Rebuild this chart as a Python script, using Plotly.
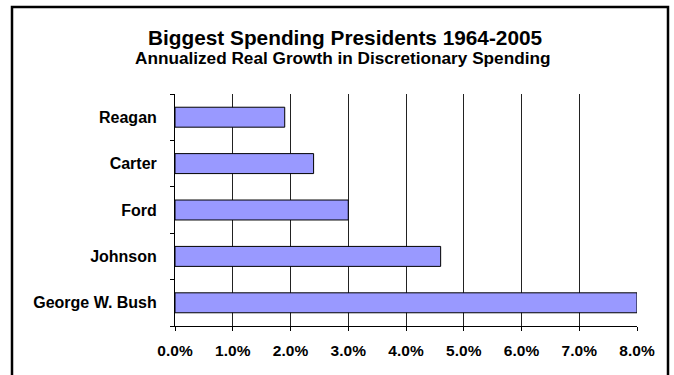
import plotly.graph_objects as go

# Annualized real growth in discretionary spending, by president
presidents = ["George W. Bush", "Johnson", "Ford", "Carter", "Reagan"]
growth = [0.080, 0.046, 0.030, 0.024, 0.019]

title_text = "Biggest Spending Presidents 1964-2005"
subtitle_text = "Annualized Real Growth in Discretionary Spending"

W, H = 674, 375
ML, MR, MT, MB = 175, 37, 94, 49
plot_w = W - ML - MR
plot_h = H - MT - MB


def px_x(px):
    return (px - ML) / plot_w


def px_y(py):
    return (H - MB - py) / plot_h


font = "Liberation Sans, Arial, sans-serif"

fig = go.Figure(
    go.Bar(
        x=growth,
        y=presidents,
        orientation="h",
        width=0.43,
        marker=dict(color="#9999FF", line=dict(color="#000000", width=1)),
        hoverinfo="skip",
    )
)

fig.update_layout(
    width=W,
    height=H,
    margin=dict(l=ML, r=MR, t=MT, b=MB, pad=0),
    paper_bgcolor="white",
    plot_bgcolor="white",
    showlegend=False,
    font=dict(family=font, color="#000000"),
    xaxis=dict(
        range=[0, 0.08],
        dtick=0.01,
        tick0=0,
        tickformat=".1%",
        showgrid=True,
        gridcolor="#222222",
        gridwidth=1,
        zeroline=False,
        showline=True,
        linecolor="#000000",
        linewidth=1,
        ticks="outside",
        ticklen=4,
        tickcolor="#000000",
        ticklabelstandoff=6,
        tickfont=dict(family=font, size=15.5, color="#000000", weight="bold"),
        fixedrange=True,
    ),
    yaxis=dict(
        type="category",
        categoryorder="array",
        categoryarray=presidents,
        range=[-0.5, 4.5],
        tickson="boundaries",
        ticks="outside",
        ticklen=4,
        tickcolor="#000000",
        showgrid=False,
        zeroline=False,
        showline=True,
        linecolor="#000000",
        linewidth=1,
        ticklabelstandoff=14,
        tickfont=dict(family=font, size=16, color="#000000", weight="bold"),
        fixedrange=True,
    ),
    shapes=[
        dict(
            type="rect",
            xref="paper",
            yref="paper",
            x0=px_x(12),
            x1=px_x(668),
            y0=px_y(395),
            y1=px_y(7),
            line=dict(color="#000000", width=2.5),
            fillcolor="rgba(0,0,0,0)",
            layer="below",
        )
    ],
    annotations=[
        dict(
            text=f"<b>{title_text}</b>",
            xref="paper",
            yref="paper",
            x=px_x(345),
            y=px_y(37),
            xanchor="center",
            yanchor="middle",
            showarrow=False,
            font=dict(family=font, size=20.8, color="#000000"),
        ),
        dict(
            text=f"<b>{subtitle_text}</b>",
            xref="paper",
            yref="paper",
            x=px_x(342),
            y=px_y(58),
            xanchor="center",
            yanchor="middle",
            showarrow=False,
            font=dict(family=font, size=17.2, color="#000000"),
        ),
    ],
)

fig.write_html("out.html", config={"displayModeBar": False})
